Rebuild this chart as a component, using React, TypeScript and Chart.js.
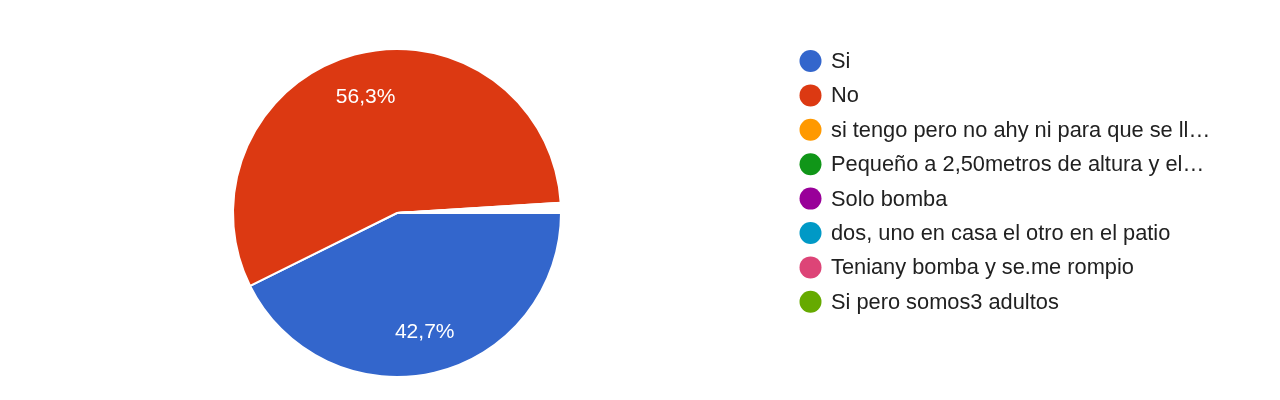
import React, { useEffect, useRef } from "react";
import { Chart, registerables } from "chart.js";

Chart.register(...registerables);

const categories = [
  "Si",
  "No",
  "si tengo pero no ahy ni para que se ll…",
  "Pequeño a 2,50metros de altura y el…",
  "Solo bomba",
  "dos, uno en casa el otro en el patio",
  "Teniany bomba y se.me rompio",
  "Si pero somos3 adultos",
];

const responses = [256, 338, 1, 1, 1, 1, 1, 1];

const paletteColors = [
  "#3366cc",
  "#dc3912",
  "#ff9900",
  "#109618",
  "#990099",
  "#0099c6",
  "#dd4477",
  "#66aa00",
];

const FONT = "'Liberation Sans', Arial, sans-serif";

export default function App() {
  const canvasRef = useRef<HTMLCanvasElement | null>(null);

  useEffect(() => {
    const canvas = canvasRef.current;
    if (!canvas) return;
    const total = responses.reduce((a, b) => a + b, 0);

    const labelPlugin = {
      id: "sliceLabels",
      afterDatasetsDraw(chart: any) {
        const ctx = chart.ctx;
        const meta = chart.getDatasetMeta(0);
        ctx.save();
        ctx.font = `21px ${FONT}`;
        ctx.fillStyle = "#ffffff";
        ctx.textAlign = "center";
        ctx.textBaseline = "middle";
        meta.data.forEach((arc: any, i: number) => {
          const frac = responses[i] / total;
          if (frac < 0.05) return;
          const p = arc.getProps(["x", "y", "startAngle", "endAngle", "outerRadius"], true);
          const mid = (p.startAngle + p.endAngle) / 2;
          const r = p.outerRadius * 0.74;
          const txt = (frac * 100).toFixed(1).replace(".", ",") + "%";
          ctx.fillText(txt, p.x + Math.cos(mid) * r, p.y + Math.sin(mid) * r + 1);
        });
        ctx.restore();
      },
    };

    const legendPlugin = {
      id: "sideLegend",
      afterDraw(chart: any) {
        const ctx = chart.ctx;
        const labels = chart.data.labels as string[];
        ctx.save();
        ctx.font = `21.8px ${FONT}`;
        ctx.textAlign = "left";
        ctx.textBaseline = "middle";
        labels.forEach((lab, i) => {
          const y = 61 + i * 34.4;
          ctx.beginPath();
          ctx.fillStyle = paletteColors[i];
          ctx.arc(810.5, y, 11, 0, Math.PI * 2);
          ctx.fill();
          ctx.fillStyle = "#212121";
          ctx.fillText(lab, 831, y + 1);
        });
        ctx.restore();
      },
    };

    const chart = new Chart(canvas, {
      type: "pie",
      data: {
        labels: categories,
        datasets: [
          {
            data: responses,
            backgroundColor: responses.map((v, i) =>
              v / total < 0.005 ? "#ffffff" : paletteColors[i]
            ),
            borderColor: "#ffffff",
            borderWidth: 2,
            hoverOffset: 0,
          },
        ],
      },
      options: {
        responsive: false,
        animation: false,
        rotation: 90,
        layout: { padding: { left: 232, top: 48, right: 718, bottom: 22 } },
        plugins: {
          legend: { display: false },
          tooltip: { enabled: false },
        },
      },
      plugins: [labelPlugin, legendPlugin],
    });

    return () => chart.destroy();
  }, []);

  return (
    <div style={{ position: "fixed", left: 0, top: 0, width: 1280, height: 400, background: "#ffffff" }}>
      <canvas ref={canvasRef} width={1280} height={400} />
    </div>
  );
}
